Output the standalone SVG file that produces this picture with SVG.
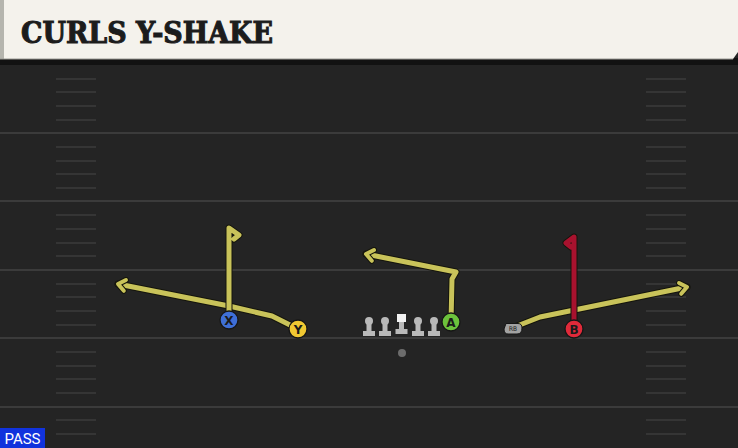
<svg xmlns="http://www.w3.org/2000/svg" width="738" height="448" viewBox="0 0 738 448">
<defs>
<style>
.yl{stroke:#3b3b3b;stroke-width:2}
.hm{stroke:#353535;stroke-width:2}
.rto{fill:none;stroke:#15150c;stroke-width:7;stroke-linejoin:round;stroke-linecap:round}
.rt{fill:none;stroke-width:5;stroke-linejoin:round;stroke-linecap:round}
.ylw{stroke:#c9c35a}
.red{stroke:#a8122e}
.pl{stroke:#161616;stroke-width:1.3}
.lbl{font-family:"DejaVu Sans",sans-serif;font-weight:bold;font-size:12px;fill:#1a1a1a;text-anchor:middle}
.ol{fill:#b9b9b9}
</style>
<marker id="ay" viewBox="-12 -9 16 18" refX="0" refY="0" markerWidth="16" markerHeight="18" orient="auto" markerUnits="userSpaceOnUse">
<path d="M-7,-5.5 L0,0 L-7,5.5" fill="none" stroke="#15150c" stroke-width="6" stroke-linejoin="round" stroke-linecap="round"/>
<path d="M-7,-5.5 L0,0 L-7,5.5" fill="none" stroke="#c9c35a" stroke-width="4" stroke-linejoin="round" stroke-linecap="round"/>
</marker>
</defs>
<rect width="738" height="448" fill="#242424"/>
<g id="field">
<line class="yl" x1="0" y1="133" x2="738" y2="133"/>
<line class="yl" x1="0" y1="201" x2="738" y2="201"/>
<line class="yl" x1="0" y1="270" x2="738" y2="270"/>
<line class="yl" x1="0" y1="338" x2="738" y2="338"/>
<line class="yl" x1="0" y1="407" x2="738" y2="407"/>
<g id="hashL">
<line class="hm" x1="56" y1="79" x2="96" y2="79"/><line class="hm" x1="56" y1="92" x2="96" y2="92"/><line class="hm" x1="56" y1="106" x2="96" y2="106"/><line class="hm" x1="56" y1="120" x2="96" y2="120"/>
<line class="hm" x1="56" y1="147" x2="96" y2="147"/><line class="hm" x1="56" y1="161" x2="96" y2="161"/><line class="hm" x1="56" y1="174" x2="96" y2="174"/><line class="hm" x1="56" y1="188" x2="96" y2="188"/>
<line class="hm" x1="56" y1="215" x2="96" y2="215"/><line class="hm" x1="56" y1="229" x2="96" y2="229"/><line class="hm" x1="56" y1="243" x2="96" y2="243"/><line class="hm" x1="56" y1="256" x2="96" y2="256"/>
<line class="hm" x1="56" y1="284" x2="96" y2="284"/><line class="hm" x1="56" y1="297" x2="96" y2="297"/><line class="hm" x1="56" y1="311" x2="96" y2="311"/><line class="hm" x1="56" y1="325" x2="96" y2="325"/>
<line class="hm" x1="56" y1="352" x2="96" y2="352"/><line class="hm" x1="56" y1="366" x2="96" y2="366"/><line class="hm" x1="56" y1="379" x2="96" y2="379"/><line class="hm" x1="56" y1="393" x2="96" y2="393"/>
<line class="hm" x1="56" y1="420" x2="96" y2="420"/><line class="hm" x1="56" y1="434" x2="96" y2="434"/>
</g>
<g id="hashR">
<line class="hm" x1="646" y1="79" x2="686" y2="79"/><line class="hm" x1="646" y1="92" x2="686" y2="92"/><line class="hm" x1="646" y1="106" x2="686" y2="106"/><line class="hm" x1="646" y1="120" x2="686" y2="120"/>
<line class="hm" x1="646" y1="147" x2="686" y2="147"/><line class="hm" x1="646" y1="161" x2="686" y2="161"/><line class="hm" x1="646" y1="174" x2="686" y2="174"/><line class="hm" x1="646" y1="188" x2="686" y2="188"/>
<line class="hm" x1="646" y1="215" x2="686" y2="215"/><line class="hm" x1="646" y1="229" x2="686" y2="229"/><line class="hm" x1="646" y1="243" x2="686" y2="243"/><line class="hm" x1="646" y1="256" x2="686" y2="256"/>
<line class="hm" x1="646" y1="284" x2="686" y2="284"/><line class="hm" x1="646" y1="297" x2="686" y2="297"/><line class="hm" x1="646" y1="311" x2="686" y2="311"/><line class="hm" x1="646" y1="325" x2="686" y2="325"/>
<line class="hm" x1="646" y1="352" x2="686" y2="352"/><line class="hm" x1="646" y1="366" x2="686" y2="366"/><line class="hm" x1="646" y1="379" x2="686" y2="379"/><line class="hm" x1="646" y1="393" x2="686" y2="393"/>
<line class="hm" x1="646" y1="420" x2="686" y2="420"/><line class="hm" x1="646" y1="434" x2="686" y2="434"/>
</g>
</g>
<g id="header">
<rect x="0" y="58" width="738" height="7" fill="#121212"/>
<path d="M0,0 H738 V52 L733,59 H0 Z" fill="#f4f2ec"/>
<rect x="0" y="0" width="4" height="59" fill="#b5b5ae"/>
<line x1="0" y1="59" x2="733" y2="59" stroke="#9a9a94" stroke-width="1"/>
<text x="21" y="43" font-family="DejaVu Serif Condensed, DejaVu Serif, serif" font-stretch="condensed" font-weight="bold" font-size="29" fill="#1c1c1c" stroke="#1c1c1c" stroke-width="1" textLength="252" lengthAdjust="spacingAndGlyphs">CURLS Y-SHAKE</text>
</g>
<g id="connectors">
<polyline class="rto" points="298,329 272,316 229,306 118,284"/>
<polyline class="rt ylw" points="298,329 272,316 229,306 118,284" marker-end="url(#ay)"/>
<polyline class="rto" points="229,320 229,228 239,235 234,239"/>
<polyline class="rt ylw" points="229,320 229,228 239,235 234,239"/>
<polyline class="rto" points="451,322 452,279 456,272 366,254"/>
<polyline class="rt ylw" points="451,322 452,279 456,272 366,254" marker-end="url(#ay)"/>
<polyline class="rto" points="512,328 540,317 687,287"/>
<polyline class="rt ylw" points="512,328 540,317 687,287" marker-end="url(#ay)"/>
<polyline class="rto" points="574,329 574,237 566,243 571,247"/>
<polyline class="rt red" points="574,329 574,237 566,243 571,247"/>
</g>
<g id="line-OL">
<g><circle class="ol" cx="369" cy="321" r="4"/><rect class="ol" x="366.5" y="321" width="5" height="11"/><rect class="ol" x="363" y="331" width="12" height="5"/></g>
<g><circle class="ol" cx="385" cy="321" r="4"/><rect class="ol" x="382.5" y="321" width="5" height="11"/><rect class="ol" x="379" y="331" width="12" height="5"/></g>
<g><rect x="397" y="314" width="9" height="8" fill="#f2f2f2"/><rect class="ol" x="399" y="322" width="5" height="8"/><rect class="ol" x="395.5" y="329" width="12" height="5"/></g>
<g><circle class="ol" cx="418" cy="321" r="4"/><rect class="ol" x="415.5" y="321" width="5" height="11"/><rect class="ol" x="412" y="331" width="12" height="5"/></g>
<g><circle class="ol" cx="434" cy="321" r="4"/><rect class="ol" x="431.5" y="321" width="5" height="11"/><rect class="ol" x="428" y="331" width="12" height="5"/></g>
</g>
<g id="QB"><circle cx="402" cy="353" r="4" fill="#6c6c6c"/></g>
<g id="X"><circle class="pl" cx="229" cy="320" r="9" fill="#3f6fd6"/><text class="lbl" x="229" y="324.5">X</text></g>
<g id="Y"><circle class="pl" cx="298" cy="329" r="9" fill="#f0c832"/><text class="lbl" x="298" y="333.5">Y</text></g>
<g id="A"><circle class="pl" cx="451" cy="322" r="9" fill="#6cc23c"/><text class="lbl" x="451" y="326.5">A</text></g>
<g id="B"><circle class="pl" cx="574" cy="329" r="9" fill="#e02a3a"/><text class="lbl" x="574" y="333.5">B</text></g>
<g id="RB"><path d="M506,323.5 H518 Q522,323.5 522,328 Q522,334 517,334 H508 Q504,334 504,329 Z" fill="#a2a2a2" stroke="#161616" stroke-width="1"/><text x="513" y="331" font-family="DejaVu Sans Mono, monospace" font-size="6.5" fill="#222" text-anchor="middle">RB</text></g>
<g id="pass"><rect x="0" y="428" width="45" height="20" fill="#1133dd"/><text x="22.5" y="443.5" font-family="Roboto, sans-serif" font-size="15" fill="#ffffff" text-anchor="middle">PASS</text></g>
</svg>
